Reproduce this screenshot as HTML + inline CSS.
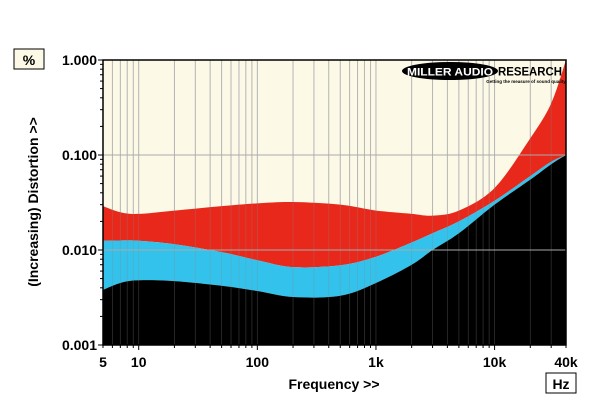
<!DOCTYPE html>
<html><head><meta charset="utf-8"><style>
body{margin:0;background:#fff;width:600px;height:414px;overflow:hidden;font-family:"Liberation Sans",Arial,sans-serif}
svg text{font-family:"Liberation Sans",Arial,sans-serif;font-weight:bold}
</style></head><body>
<svg id="chart" width="600" height="414" viewBox="0 0 600 414">
<rect x="103" y="60" width="463" height="285" fill="#fcf9e6"/>
<g id="grid"></g>
<g id="series"></g>
<g id="vgrid2"></g>
<rect x="103" y="60" width="463" height="285" fill="none" stroke="#000" stroke-width="1.5"/>
<g id="axes"></g>
<rect x="14" y="49" width="30" height="20" fill="#fcf9e6" stroke="#000"/>
<text x="29" y="65" text-anchor="middle" font-size="14">%</text>
<rect x="546" y="373" width="30" height="20" fill="#fff" stroke="#000"/>
<text x="561" y="389" text-anchor="middle" font-size="14">Hz</text>
<text x="334" y="389" text-anchor="middle" font-size="14">Frequency &gt;&gt;</text>
<text transform="translate(38,202) rotate(-90)" text-anchor="middle" font-size="14">(Increasing) Distortion &gt;&gt;</text>
<g>
<ellipse cx="450" cy="71" rx="48" ry="9" fill="#000"/>
<text x="450" y="75.5" text-anchor="middle" font-size="11" fill="#fff" textLength="86" lengthAdjust="spacingAndGlyphs">MILLER AUDIO</text>
<text x="530" y="75.5" text-anchor="middle" font-size="12" fill="#000" textLength="64" lengthAdjust="spacingAndGlyphs">RESEARCH</text>
<text x="526" y="83" text-anchor="middle" font-size="4.5" fill="#000">Getting the measure of sound quality</text>
</g>
</svg>
<script>
const freqs=[5,7,10,20,50,100,200,500,1000,2000,3000,5000,10000,20000,30000,40000];
const redTop=[0.029,0.025,0.024,0.026,0.029,0.031,0.032,0.030,0.026,0.024,0.023,0.026,0.045,0.15,0.35,1.0];
const blueTop=[0.0125,0.0126,0.0125,0.0115,0.0095,0.0078,0.0066,0.0069,0.0085,0.012,0.015,0.02,0.033,0.06,0.085,0.1];
const blackTop=[0.0038,0.0045,0.0048,0.0047,0.0042,0.0037,0.0032,0.0033,0.0045,0.007,0.01,0.015,0.03,0.055,0.08,0.1];
const yTicks=[1,0.1,0.01,0.001];
const yTickLabels=["1.000","0.100","0.010","0.001"];
const xLabelVals=[5,10,100,1000,10000,40000];
const xLabels=["5","10","100","1k","10k","40k"];
const NS="http://www.w3.org/2000/svg";
const X0=103,X1=566,Y0=60,Y1=345;
const lxmin=Math.log10(5),lxmax=Math.log10(40000);
function xs(f){return X0+(Math.log10(f)-lxmin)/(lxmax-lxmin)*(X1-X0);}
function ys(v){return Y1-(Math.log10(v)+3)/3*(Y1-Y0);}
function mk(t,a,p){const e=document.createElementNS(NS,t);for(const k in a)e.setAttribute(k,a[k]);p.appendChild(e);return e;}
const grid=document.getElementById('grid'),ser=document.getElementById('series'),ax=document.getElementById('axes'),g2=document.getElementById('vgrid2');
function m1(f){return Math.abs(Math.log10(f)-Math.round(Math.log10(f)))<1e-9;}
const minor=[];
for(let d=1;d<=10000;d*=10)for(let m=1;m<10;m++){const f=m*d;if(f>=5&&f<=40000)minor.push(f);}
minor.forEach(f=>{const x=xs(f);
 const l=mk('line',{x1:x,x2:x,y1:Y0,y2:Y1,stroke:'#c8c8c8','stroke-width':1},grid);
 
 const l2=mk('line',{x1:x,x2:x,y1:Y0,y2:Y1,stroke:'#888','stroke-width':0.8,opacity:0.35},g2);
 
 const t=mk('line',{x1:x,x2:x,y1:Y1,y2:Y1+(m1(f)?5:3),stroke:'#000'},ax);
 
});
yTicks.forEach(v=>{if(v<1&&v>0.001){const l=mk('line',{x1:X0,x2:X1,y1:ys(v),y2:ys(v),stroke:'#aaa','stroke-width':1},g2);
 }});
function smooth(pts){
 let d='';
 for(let i=0;i<pts.length-1;i++){
  const p0=pts[Math.max(i-1,0)],p1=pts[i],p2=pts[i+1],p3=pts[Math.min(i+2,pts.length-1)];
  const c1=[p1[0]+(p2[0]-p0[0])/6,p1[1]+(p2[1]-p0[1])/6];
  const c2=[p2[0]-(p3[0]-p1[0])/6,p2[1]-(p3[1]-p1[1])/6];
  d+=' C'+c1[0]+','+c1[1]+' '+c2[0]+','+c2[1]+' '+p2[0]+','+p2[1];
 }
 return d;
}
function area(top,bottom,color,name){
 const tp=freqs.map((f,i)=>[xs(f),ys(top[i])]);
 let d='M'+tp[0][0]+','+tp[0][1]+smooth(tp);
 if(bottom){const bp=freqs.map((f,i)=>[xs(f),ys(bottom[i])]).reverse();
  d+=' L'+bp[0][0]+','+bp[0][1]+smooth(bp);}
 else d+=' L'+X1+','+Y1+' L'+X0+','+Y1;
 const p=mk('path',{d:d+'Z',fill:color},ser);
 
}
area(redTop,blueTop,'#e8281a','red-band');
area(blueTop,blackTop,'#33c2ec','blue-band');
area(blackTop,null,'#000','black-band');
yTicks.forEach((v,i)=>{const y=ys(v);
 const t=mk('text',{x:X0-6,y:y+5,'text-anchor':'end','font-size':14},ax);t.textContent=yTickLabels[i];
 
 const tk=mk('line',{x1:X0-5,x2:X0,y1:y,y2:y,stroke:'#000'},ax);
 
 if(i<3)for(let m=2;m<10;m++){const yy=ys(v/10*m);const mt=mk('line',{x1:X0-3,x2:X0,y1:yy,y2:yy,stroke:'#000'},ax);
  }
});
xLabelVals.forEach((f,i)=>{const t=mk('text',{x:xs(f),y:367,'text-anchor':'middle','font-size':14},ax);t.textContent=xLabels[i];
 });
</script>
</body></html>
